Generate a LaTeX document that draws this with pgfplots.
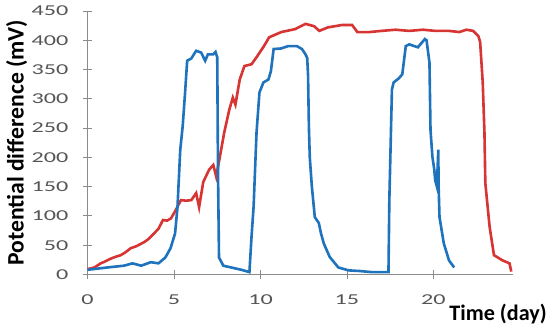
\documentclass[border=0pt]{standalone}
\usepackage{fontspec}
\setmainfont{Carlito}
\newfontfamily\ticksfont[FakeStretch=1.6]{Carlito}
\usepackage{pgfplots}
\pgfplotsset{compat=1.18}
\definecolor{cblue}{RGB}{30,115,188}
\definecolor{cred}{RGB}{215,52,52}
\definecolor{axgray}{RGB}{140,140,140}
\definecolor{tickgray}{RGB}{85,85,85}
\begin{document}
\begin{tikzpicture}
\begin{axis}[
  scale only axis,
  width=423pt, height=262pt,
  xmin=0, xmax=24.6, ymin=0, ymax=450,
  axis x line=bottom, axis y line=left,
  axis line style={-, axgray, line width=0.9pt},
  xtick={0,5,10,15,20},
  ytick={0,50,...,450},
  tick align=center,
  major tick length=9pt,
  tick style={axgray, line width=0.9pt},
  tick label style={font=\ticksfont\fontsize{15}{15}\selectfont, text=tickgray},
  /pgf/number format/assume math mode=true,
  xticklabel style={yshift=-12pt},
  yticklabel style={xshift=-11pt, inner ysep=6pt},
  xlabel={Time (day)},
  ylabel={Potential difference (mV)},
  xlabel style={font=\bfseries\fontsize{22}{22}\selectfont, at={(rel axis cs:1,0)}, anchor=north east, xshift=37pt, yshift=-26pt},
  ylabel style={font=\bfseries\fontsize{23.5}{23.5}\selectfont, inner ysep=6pt},
  ylabel shift=-5pt,
  clip=false,
]
\addplot[cred, line width=2.6pt] coordinates {
(0,9) (0.4,12) (0.76,19) (1.0,22) (1.34,27) (1.6,30) (1.92,33) (2.2,38) (2.5,45) (2.8,48)
(3.26,55) (3.5,60) (3.84,70) (4.1,78) (4.36,93) (4.6,92) (4.83,96) (5.1,110) (5.4,127) (5.7,126)
(6.0,127) (6.28,139) (6.45,115) (6.69,158) (7.03,179) (7.27,187) (7.44,167) (7.62,196) (7.9,242)
(8.2,282) (8.4,302) (8.55,290) (8.8,333) (9.07,356) (9.48,359) (9.77,371) (10.2,390) (10.5,405)
(11.2,414) (12.0,419) (12.6,428) (13.1,424) (13.4,416) (13.9,422) (14.7,426) (15.3,426) (15.6,414)
(16.3,414) (17.0,416) (17.8,418) (18.6,416) (19.4,418) (20.1,416) (20.9,416) (21.5,414) (21.9,418)
(22.3,416) (22.6,407) (22.7,397) (22.85,328) (22.95,242) (23.0,156) (23.25,81) (23.5,33) (24.0,24)
(24.4,19) (24.5,5)
};
\addplot[cblue, line width=2.6pt] coordinates {
(0,8) (1.15,12) (2.1,15) (2.6,19) (3.1,15) (3.66,21) (4.1,19) (4.5,29) (4.8,45) (5.06,70)
(5.2,115) (5.36,213) (5.5,253) (5.64,311) (5.76,365) (6.0,369) (6.28,382) (6.57,379) (6.8,365)
(6.96,376) (7.27,376) (7.4,380) (7.5,371) (7.54,184) (7.6,29) (7.85,15) (8.3,12) (8.9,8) (9.36,4)
(9.48,64) (9.6,115) (9.77,242) (9.94,311) (10.17,328) (10.46,333) (10.6,347) (10.76,385) (11.2,386)
(11.6,390) (12.1,390) (12.4,385) (12.6,376) (12.7,370) (12.75,340) (12.8,250) (12.85,200) (12.97,150)
(13.14,98) (13.37,88) (13.5,70) (13.66,53) (14.0,30) (14.5,12) (15.1,7) (15.7,6) (16.45,4) (17.4,4)
(17.45,127) (17.6,316) (17.7,328) (18.0,335) (18.2,342) (18.4,390) (18.6,393) (19.1,388) (19.36,397)
(19.5,402) (19.6,400) (19.77,362) (19.83,247) (19.94,201) (20.05,179) (20.1,161) (20.2,150) (20.28,213)
(20.3,150) (20.35,98) (20.6,53) (20.9,24) (21.2,12)
};
\end{axis}
\end{tikzpicture}
\end{document}
